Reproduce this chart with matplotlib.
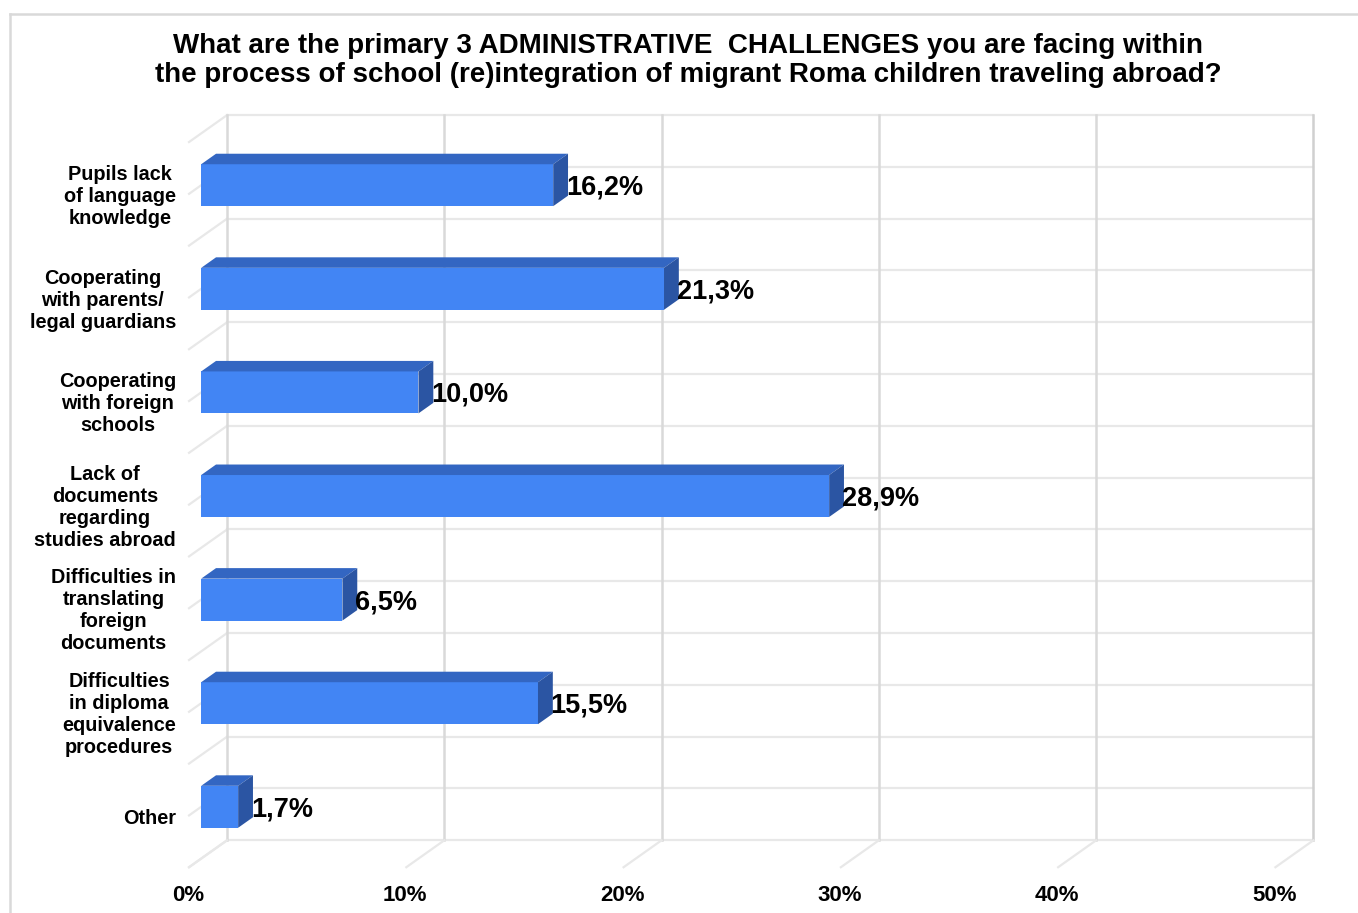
import matplotlib
matplotlib.use('Agg')
import matplotlib.pyplot as plt
from matplotlib.patches import Polygon
from matplotlib.lines import Line2D

title = ("What are the primary 3 ADMINISTRATIVE  CHALLENGES you are facing within\n"
         "the process of school (re)integration of migrant Roma children traveling abroad?")
categories = [
    "Pupils lack\nof language\nknowledge",
    "Cooperating\nwith parents/\nlegal guardians",
    "Cooperating\nwith foreign\nschools",
    "Lack of\ndocuments\nregarding\nstudies abroad",
    "Difficulties in\ntranslating\nforeign\ndocuments",
    "Difficulties\nin diploma\nequivalence\nprocedures",
    "Other",
]
values = [16.2, 21.3, 10.0, 28.9, 6.5, 15.5, 1.7]
x_ticks = [0, 10, 20, 30, 40, 50]
tick_labels = ["0%", "10%", "20%", "30%", "40%", "50%"]

plt.rcParams['font.family'] = ['Liberation Sans', 'DejaVu Sans']

W, H = 1358, 913
fig = plt.figure(figsize=(W / 100, H / 100), dpi=100)
ax = fig.add_axes([0, 0, 1, 1])
ax.set_xlim(-8.70, 53.80)
ax.set_ylim(6.942, -1.871)
ax.axis('off')

# depth vector of the 3D box, in data units
DX, DY = 1.75, -0.26
n = len(categories)
xmax = x_ticks[-1]
y0, y1 = -0.5, n - 0.5

hcol = '#e8e8e8'
vcol = '#d9d9d9'

# back wall horizontal lines + left wall diagonals
for k in range(2 * n + 1):
    y = y0 + k * 0.5
    ax.plot([DX, xmax + DX], [y + DY, y + DY], color=hcol, lw=1.6, zorder=1)
    ax.plot([0, DX], [y, y + DY], color=hcol, lw=1.6, zorder=1)

# back wall verticals + floor diagonals
for t in x_ticks:
    c = '#d0d0d0' if t == xmax else vcol
    ax.plot([t + DX, t + DX], [y0 + DY, y1 + DY], color=c, lw=1.8, zorder=1)
    ax.plot([t, t + DX], [y1, y1 + DY], color=hcol, lw=1.6, zorder=1)

# 3D bars
d0, d1, h = 0.32, 0.71, 0.405
ddx, ddy = (d1 - d0) * DX, (d1 - d0) * DY
front_c, top_c, side_c = '#4285f4', '#3366c2', '#2b55a3'
for i, v in enumerate(values):
    cy = i + d0 * DY
    xl, xr = d0 * DX, v + d0 * DX
    yt, yb = cy - h / 2, cy + h / 2
    ax.add_patch(Polygon([(xl, yt), (xr, yt), (xr, yb), (xl, yb)],
                         closed=True, facecolor=front_c, edgecolor='none', zorder=3))
    ax.add_patch(Polygon([(xl, yt), (xr, yt), (xr + ddx, yt + ddy), (xl + ddx, yt + ddy)],
                         closed=True, facecolor=top_c, edgecolor='none', zorder=3))
    ax.add_patch(Polygon([(xr, yt), (xr, yb), (xr + ddx, yb + ddy), (xr + ddx, yt + ddy)],
                         closed=True, facecolor=side_c, edgecolor='none', zorder=3))
    label = f"{v:.1f}".replace('.', ',') + '%'
    ax.text(v + d1 * DX - 0.1, cy + 0.025, label, ha='left', va='center',
            fontsize=19.5, fontweight='bold', color='black', zorder=4)

# category labels
for i, cat in enumerate(categories):
    ax.text(-0.6, i + 0.025, cat, ha='right', va='center', multialignment='center',
            fontsize=14.3, fontweight='bold', linespacing=1.2, zorder=4)

# x tick labels
for t, lab in zip(x_ticks, tick_labels):
    ax.text(t - 0.05, 6.77, lab, ha='center', va='center',
            fontsize=16, fontweight='bold', zorder=4)

fig.text(688 / W, 1 - 60.5 / H, title, ha='center', va='center',
         fontsize=20, fontweight='bold', linespacing=1.17)

# outer border (left and top)
fig.add_artist(Line2D([10 / W, 10 / W], [0, 1 - 14 / H], transform=fig.transFigure,
                      color='#d9d9d9', lw=1.8))
fig.add_artist(Line2D([10 / W, 1], [1 - 14 / H, 1 - 14 / H], transform=fig.transFigure,
                      color='#d9d9d9', lw=1.8))

fig.savefig('out.png', dpi=100)
